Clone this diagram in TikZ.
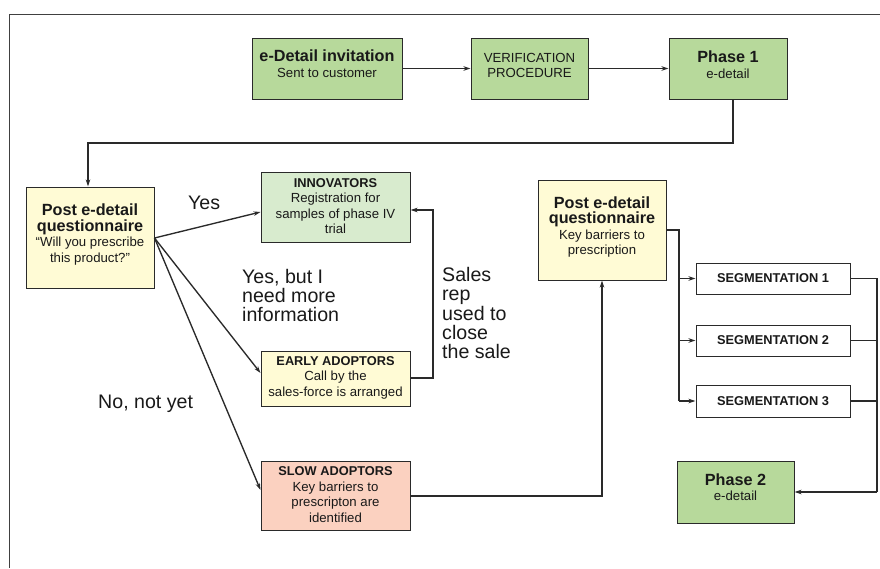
\documentclass[tikz,border=0pt]{standalone}
\usepackage{fontspec}
\setmainfont{Liberation Sans}
\usetikzlibrary{arrows.meta}
\definecolor{gbox}{HTML}{B7D99B}
\definecolor{lgbox}{HTML}{D8EBCE}
\definecolor{ybox}{HTML}{FFFBD5}
\definecolor{rbox}{HTML}{FBD1C0}
\definecolor{ln}{HTML}{2A2A2A}
\newcommand\ttlf{\fontsize{16.2}{19}\selectfont\bfseries}
\newcommand\subf{\fontsize{13.2}{15.5}\selectfont}
\newcommand\hdf{\fontsize{12.8}{15.5}\selectfont\bfseries}
\newcommand\lblf{\fontsize{19.6}{19.2}\selectfont}
\begin{document}
\begin{tikzpicture}[x=1pt,y=-1pt,
  box/.style={draw=ln, line width=1pt, inner sep=0pt},
  txt/.style={align=center, inner sep=0pt, font=\subf, text=black!90},
  lbl/.style={align=left, inner sep=0pt, font=\lblf, text=black!90},
  conn/.style={draw=ln, line width=1.35pt},
  arr/.style={conn, -{Stealth[length=7pt,width=4.5pt]}}]
\useasboundingbox (0,0) rectangle (880,568);
% frame
\draw[draw=black!75, line width=1pt] (880,14) -- (9,14) -- (9,568);
% boxes
\node[box, fill=gbox, minimum width=150pt, minimum height=61pt] (inv) at (327,68.5) {};
\node[box, fill=gbox, minimum width=117pt, minimum height=61pt] (ver) at (529.5,68.5) {};
\node[box, fill=gbox, minimum width=118pt, minimum height=61pt] (ph1) at (728,68.5) {};
\node[box, fill=ybox, minimum width=128pt, minimum height=101pt] (q1) at (90,237.5) {};
\node[box, fill=lgbox, minimum width=149pt, minimum height=70pt] (inn) at (335.5,207) {};
\node[box, fill=ybox, minimum width=149pt, minimum height=55pt] (early) at (335.5,378.5) {};
\node[box, fill=rbox, minimum width=149pt, minimum height=69pt] (slow) at (335.5,495.5) {};
\node[box, fill=ybox, minimum width=128pt, minimum height=100pt] (q2) at (602,230) {};
\node[box, fill=white, minimum width=154pt, minimum height=31pt] (s1) at (773,278.5) {};
\node[box, fill=white, minimum width=154pt, minimum height=31pt] (s2) at (773,340.5) {};
\node[box, fill=white, minimum width=154pt, minimum height=32pt] (s3) at (773,401) {};
\node[box, fill=gbox, minimum width=117pt, minimum height=62pt] (ph2) at (735.5,492) {};
% box texts
\node[txt] (invt) at ([yshift=5pt]inv.center) {{\ttlf e-Detail invitation}\\Sent to customer};
\node[txt] (vert) at ([yshift=3pt]ver.center) {VERIFICATION\\PROCEDURE};
\node[txt] (ph1t) at ([yshift=4pt]ph1.center) {{\ttlf Phase 1}\\e-detail};
\node[txt] (q1t) at ([yshift=3pt]q1.center) {{\ttlf Post e-detail}\\{\ttlf questionnaire}\\\textquotedblleft Will you prescribe\\this product?"};
\node[txt] (innt) at ([yshift=1pt]inn.center) {{\hdf INNOVATORS}\\Registration for\\samples of phase IV\\trial};
\node[txt] (earlyt) at ([yshift=1pt]early.center) {{\hdf EARLY ADOPTORS}\\Call by the\\sales-force is arranged};
\node[txt] (slowt) at ([yshift=1pt]slow.center) {{\hdf SLOW ADOPTORS}\\Key barriers to\\prescripton are\\identified};
\node[txt] (q2t) at ([yshift=3pt]q2.center) {{\ttlf Post e-detail}\\{\ttlf questionnaire}\\Key barriers to\\prescription};
\node[txt, font=\hdf] (s1t) at (s1.center) {SEGMENTATION 1};
\node[txt, font=\hdf] (s2t) at (s2.center) {SEGMENTATION 2};
\node[txt, font=\hdf] (s3t) at (s3.center) {SEGMENTATION 3};
\node[txt] (ph2t) at ([yshift=5pt]ph2.center) {{\ttlf Phase 2}\\e-detail};
% labels (base = baseline of last line)
\node[lbl, anchor=base west] (yes) at (188,209) {Yes};
\node[lbl, anchor=base west] (ybut) at (242,321.5) {Yes, but I\\need more\\information};
\node[lbl, anchor=base west] (sales) at (442,358.5) {Sales\\rep\\used to\\close\\the sale};
\node[lbl, anchor=base west] (no) at (98,408) {No, not yet};
% connectors
\draw[arr] (inv.east) -- (ver.west);
\draw[arr] (ver.east) -- (ph1.west);
\draw[arr] (ph1.south -| 733,0) -- (733,143) -- (88,143) -- (88,0 |- q1.north);
\coordinate (fan) at (q1.east |- 0,238);
\draw[arr] (fan) -- (inn.west |- 0,212);
\draw[arr] (fan) -- (early.west |- 0,373);
\draw[arr] (fan) -- (slow.west |- 0,490);
\draw[arr] (early.east |- 0,378) -- (433,378) -- (433,210) -- (inn.east |- 0,210);
\draw[arr] (slow.east |- 0,496) -- (602,496) -- (q2.south);
\draw[conn] (q2.east |- 0,230) -- (679,230) -- (679,401);
\draw[arr] (679,278.5) -- (s1.west);
\draw[arr] (679,340.5) -- (s2.west);
\draw[arr] (679,401) -- (s3.west);
\draw[conn] (s1.east) -- (877,278.5) -- (877,492);
\draw[conn] (s2.east) -- (877,340.5);
\draw[conn] (s3.east) -- (877,401);
\draw[arr] (877,492) -- (ph2.east);
\end{tikzpicture}
\end{document}
